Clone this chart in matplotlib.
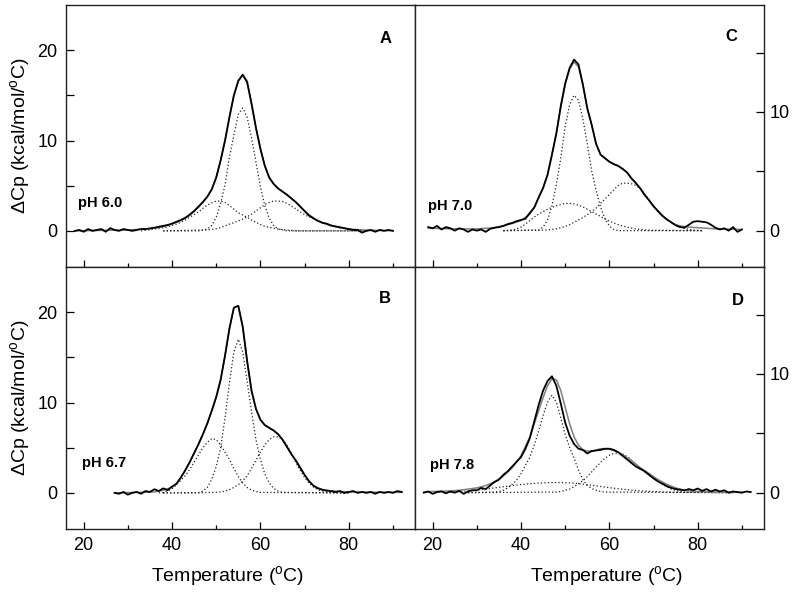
import matplotlib
matplotlib.use("Agg")
import matplotlib.pyplot as plt
from matplotlib.ticker import FixedLocator

plt.rcParams['font.family'] = ['Liberation Sans', 'DejaVu Sans']
plt.rcParams['mathtext.fontset'] = 'custom'
plt.rcParams['mathtext.rm'] = 'Liberation Sans'

# ---------------- Panel A (pH 6.0) ----------------
A_T = list(range(18, 91))
A_meas = [0.0, 0.1, -0.1, 0.2, 0.0, 0.1, 0.2, -0.1, 0.3, 0.1, 0.0, 0.2, 0.1, 0.0, 0.1, 0.2, 0.2,
          0.27, 0.35, 0.45, 0.55, 0.65, 0.8, 1.0, 1.2, 1.45, 1.8, 2.2, 2.7, 3.2, 3.8, 4.6, 5.9,
          7.8, 10.0, 12.6, 15.0, 16.6, 17.3, 16.5, 14.1, 11.4, 9.1, 7.2, 5.9, 5.2, 4.7, 4.35,
          4.0, 3.6, 3.2, 2.7, 2.2, 1.7, 1.4, 1.1, 0.9, 0.8, 0.6, 0.5, 0.4, 0.3, 0.2, 0.1,
          0.1, -0.2, 0.0, 0.1, -0.1, 0.1, 0.0, 0.1, 0.0]
A_fit_T = [18, 30, 34, 36, 38, 40, 42, 44, 46, 48, 49, 50, 51, 52, 53, 54, 55, 56, 57, 58, 59,
           60, 61, 62, 63, 64, 65, 66, 67, 68, 69, 70, 72, 74, 76, 78, 80, 84, 90]
A_fit = [0.0, 0.1, 0.2, 0.3, 0.45, 0.75, 1.15, 1.7, 2.6, 3.75, 4.6, 5.9, 7.8, 10.0, 12.6, 15.0,
         16.6, 17.2, 16.4, 14.0, 11.4, 9.1, 7.2, 5.9, 5.2, 4.7, 4.35, 4.0, 3.6, 3.15, 2.7, 2.2,
         1.4, 0.9, 0.55, 0.35, 0.2, 0.08, 0.02]
A_c1_T = [38] + list(range(46, 67)) + [84]
A_c1 = [0.0] + [0.0, 0.1, 0.2, 0.6, 1.5, 3.0, 5.1, 8.2, 10.6, 12.9, 13.6, 12.6, 10.3, 7.6, 4.9,
                2.8, 1.4, 0.6, 0.2, 0.1, 0.0] + [0.0]
A_c2_T = [33] + list(range(36, 69)) + [84]
A_c2 = [0.0] + [0.2, 0.25, 0.35, 0.45, 0.6, 0.75, 0.95, 1.2, 1.5, 1.8, 2.1, 2.5, 2.85, 3.1, 3.3,
                3.3, 3.15, 2.8, 2.4, 2.0, 1.75, 1.5, 1.2, 0.95, 0.7, 0.5, 0.4, 0.3, 0.2, 0.15,
                0.1, 0.05, 0.0] + [0.0]
A_c3_T = [38] + list(range(48, 84)) + [86]
A_c3 = [0.0] + [0.1, 0.15, 0.25, 0.35, 0.55, 0.75, 0.9, 1.1, 1.3, 1.55, 1.85, 2.2, 2.55, 2.9,
                3.15, 3.3, 3.3, 3.25, 3.05, 2.75, 2.45, 2.1, 1.8, 1.55, 1.35, 1.15, 0.95, 0.75,
                0.6, 0.45, 0.35, 0.25, 0.2, 0.15, 0.1, 0.05] + [0.0]

# ---------------- Panel B (pH 6.7) ----------------
B_T = list(range(27, 93))
B_meas = [0.0, -0.1, 0.1, -0.2, 0.0, 0.1, -0.1, 0.2, 0.1, 0.4, 0.2, 0.5, 0.3, 0.7, 1.0, 1.7,
          2.5, 3.4, 4.4, 5.4, 6.5, 7.7, 9.1, 10.6, 12.5, 15.2, 18.2, 20.5, 20.7, 18.4, 14.6,
          11.3, 9.3, 8.1, 7.5, 7.2, 6.9, 6.5, 5.9, 5.1, 4.3, 3.6, 2.8, 2.0, 1.3, 0.8, 0.5,
          0.35, 0.25, 0.2, 0.1, 0.2, 0.0, 0.1, 0.2, 0.0, 0.1, 0.0, 0.1, -0.1, 0.1, 0.0, 0.1,
          0.0, 0.2, 0.1]
B_fit_T = [27, 36, 38, 40, 41, 42, 43, 44, 45, 46, 47, 48, 49, 50, 51, 52, 53, 54, 55, 56, 57,
           58, 59, 60, 61, 62, 63, 64, 65, 66, 67, 68, 69, 70, 71, 72, 74, 76, 80, 92]
B_fit = [0.0, 0.1, 0.3, 0.6, 1.0, 1.7, 2.5, 3.4, 4.4, 5.4, 6.5, 7.7, 9.1, 10.6, 12.5, 15.2,
         18.2, 20.5, 20.7, 18.4, 14.6, 11.3, 9.3, 8.1, 7.5, 7.2, 6.9, 6.5, 5.9, 5.1, 4.3, 3.6,
         2.8, 2.0, 1.3, 0.8, 0.35, 0.2, 0.1, 0.05]
B_c1_T = [38] + list(range(46, 66)) + [80]
B_c1 = [0.0] + [0.0, 0.2, 0.6, 1.5, 2.9, 5.0, 8.3, 12.2, 15.6, 17.0, 15.6, 12.3, 9.0, 5.9, 3.7,
                2.1, 1.1, 0.5, 0.2, 0.05] + [0.0]
B_c2_T = [37] + list(range(38, 61)) + [80]
B_c2 = [0.0] + [0.05, 0.2, 0.45, 0.9, 1.4, 1.9, 2.6, 3.4, 4.2, 5.0, 5.6, 6.0, 5.9, 5.3, 4.5,
                3.7, 2.7, 1.8, 1.1, 0.6, 0.3, 0.15, 0.05] + [0.0]
B_c3_T = [38] + list(range(50, 77)) + [80]
B_c3 = [0.0] + [0.05, 0.1, 0.2, 0.35, 0.6, 0.9, 1.3, 1.9, 2.7, 3.6, 4.5, 5.3, 5.9, 6.2, 6.2,
                5.9, 5.3, 4.4, 3.4, 2.5, 1.7, 1.1, 0.65, 0.35, 0.2, 0.1, 0.05] + [0.0]

# ---------------- Panel C (pH 7.0) ----------------
C_T = list(range(19, 91))
C_meas = [0.3, 0.2, 0.4, 0.1, 0.3, 0.2, 0.0, 0.2, 0.1, -0.1, 0.1, 0.0, 0.1, -0.1, 0.15, 0.25,
          0.3, 0.4, 0.55, 0.65, 0.8, 0.9, 1.0, 1.5, 1.95, 2.8, 3.6, 4.7, 6.4, 8.2, 10.5, 12.4,
          13.7, 14.4, 14.0, 12.3, 10.3, 8.9, 7.3, 6.4, 6.1, 5.8, 5.6, 5.45, 5.2, 4.9, 4.4, 4.0,
          3.55, 3.0, 2.55, 2.05, 1.65, 1.25, 0.95, 0.7, 0.45, 0.3, 0.25, 0.5, 0.75, 0.8, 0.75,
          0.7, 0.5, 0.25, 0.1, 0.2, 0.0, 0.3, -0.1, 0.1]
C_fit_T = [19, 25, 30, 34, 36, 38, 40, 42, 43, 44, 45, 46, 47, 48, 49, 50, 51, 52, 53, 54, 55,
           56, 57, 58, 59, 60, 61, 62, 63, 64, 65, 66, 67, 68, 69, 70, 71, 72, 73, 74, 75, 76,
           78, 80, 84, 90]
C_fit = [0.2, 0.15, 0.15, 0.25, 0.4, 0.6, 0.85, 1.4, 1.95, 2.8, 3.6, 4.7, 6.4, 8.2, 10.4, 12.3,
         13.6, 14.2, 13.8, 12.3, 10.3, 8.9, 7.3, 6.4, 6.1, 5.8, 5.6, 5.45, 5.2, 4.9, 4.4, 4.0,
         3.55, 3.0, 2.55, 2.05, 1.65, 1.25, 0.95, 0.7, 0.5, 0.4, 0.3, 0.25, 0.15, 0.1]
C_c1_T = [36] + list(range(44, 63)) + [81]
C_c1 = [0.0] + [0.05, 0.3, 0.9, 2.1, 3.9, 6.1, 8.8, 10.6, 11.4, 11.0, 9.4, 7.3, 5.0, 3.4, 2.0,
                1.0, 0.4, 0.1, 0.0] + [0.0]
C_c2_T = [36] + list(range(38, 71)) + [81]
C_c2 = [0.0] + [0.05, 0.15, 0.3, 0.55, 0.85, 1.15, 1.4, 1.6, 1.8, 1.95, 2.1, 2.2, 2.3, 2.3,
                2.25, 2.15, 2.0, 1.8, 1.6, 1.4, 1.2, 1.0, 0.8, 0.65, 0.5, 0.4, 0.3, 0.22, 0.15,
                0.1, 0.07, 0.05, 0.03] + [0.0]
C_c3_T = [36] + list(range(46, 80)) + [81]
C_c3 = [0.0] + [0.05, 0.1, 0.15, 0.25, 0.35, 0.5, 0.7, 0.9, 1.1, 1.35, 1.6, 1.9, 2.3, 2.65,
                3.05, 3.45, 3.8, 4.0, 4.0, 3.95, 3.8, 3.55, 3.1, 2.6, 2.05, 1.6, 1.25, 0.95,
                0.7, 0.5, 0.35, 0.2, 0.1, 0.05] + [0.0]

# ---------------- Panel D (pH 7.8) ----------------
D_T = list(range(18, 93))
D_meas = [0.0, 0.1, -0.1, 0.05, 0.1, -0.05, 0.1, 0.0, 0.15, -0.1, 0.1, 0.2, 0.2, 0.4, 0.3,
          0.6, 0.9, 1.1, 1.5, 1.8, 2.2, 2.6, 3.0, 3.7, 4.6, 6.0, 7.4, 8.6, 9.4, 9.8, 9.0, 7.5,
          5.9, 4.8, 4.1, 3.7, 3.6, 3.3, 3.5, 3.55, 3.6, 3.7, 3.7, 3.6, 3.4, 3.1, 2.8, 2.5, 2.2,
          2.0, 1.8, 1.5, 1.2, 0.95, 0.75, 0.55, 0.4, 0.3, 0.25, 0.2, 0.3, 0.2, 0.35, 0.15, 0.3,
          0.1, 0.25, 0.1, 0.2, 0.0, 0.1, 0.05, 0.0, 0.1, 0.05]
D_fit_T = [18, 20, 22, 24, 26, 28, 30, 32, 34, 36, 38, 40, 42, 44, 45, 46, 47, 48, 49, 50, 51,
           52, 53, 54, 55, 56, 57, 58, 59, 60, 61, 62, 63, 64, 65, 66, 67, 68, 69, 70, 71, 72,
           73, 74, 75, 76, 77, 78, 80, 84, 90]
D_fit = [0.05, 0.1, 0.12, 0.15, 0.2, 0.3, 0.4, 0.6, 0.9, 1.4, 2.1, 3.1, 4.7, 6.9, 8.0, 9.0, 9.6,
         9.5, 8.6, 7.2, 5.8, 4.7, 4.0, 3.6, 3.5, 3.5, 3.6, 3.7, 3.7, 3.65, 3.55, 3.4, 3.2, 2.95,
         2.7, 2.4, 2.1, 1.85, 1.6, 1.35, 1.1, 0.9, 0.7, 0.55, 0.4, 0.3, 0.2, 0.15, 0.1, 0.05,
         0.02]
D_c1_T = [28] + list(range(34, 60)) + [88]
D_c1 = [0.0] + [0.05, 0.1, 0.2, 0.4, 0.7, 1.05, 1.6, 2.3, 3.0, 4.0, 5.2, 6.5, 7.6, 8.2, 7.6,
                6.3, 4.9, 3.8, 2.9, 1.9, 1.1, 0.6, 0.35, 0.2, 0.1, 0.05] + [0.0]
D_c2_T = [28] + list(range(48, 78)) + [88]
D_c2 = [0.0] + [0.05, 0.1, 0.2, 0.3, 0.5, 0.75, 1.0, 1.35, 1.75, 2.15, 2.55, 2.9, 3.15, 3.3,
                3.3, 3.25, 3.05, 2.75, 2.4, 2.1, 1.75, 1.45, 1.2, 0.95, 0.7, 0.5, 0.3, 0.2,
                0.1, 0.05] + [0.0]
D_c3_T = [24, 26, 28, 30, 32, 34, 36, 38, 40, 42, 44, 46, 48, 50, 52, 54, 56, 58, 60, 62, 64,
          66, 68, 70, 72, 74, 78, 84, 88]
D_c3 = [0.05, 0.1, 0.15, 0.22, 0.3, 0.4, 0.5, 0.6, 0.68, 0.75, 0.8, 0.84, 0.85, 0.84, 0.8,
        0.72, 0.62, 0.52, 0.42, 0.33, 0.25, 0.18, 0.13, 0.09, 0.06, 0.04, 0.02, 0.01, 0.0]

panel_letters = ['A', 'C', 'B', 'D']
ph_labels = ['pH 6.0', 'pH 7.0', 'pH 6.7', 'pH 7.8']
x_ticks_major = [20, 40, 60, 80]
x_ticks_minor = [30, 50, 70, 90]
left_yticks = [0, 5, 10, 15, 20]
left_ylabels = ['0', '', '10', '', '20']
right_yticks = [0, 5, 10, 15]
right_ylabels = ['0', '', '10', '']

ylabel = 'ΔCp (kcal/mol/$^\\mathregular{o}$C)'
xlabel = 'Temperature ($^\\mathregular{o}$C)'

fig = plt.figure(figsize=(7.95, 5.96), dpi=100)
W, H = 795.0, 596.0
pos = {
    'A': [66 / W, 1 - 267 / H, 349 / W, 262 / H],
    'C': [415 / W, 1 - 267 / H, 349 / W, 262 / H],
    'B': [66 / W, 1 - 529 / H, 349 / W, 262 / H],
    'D': [415 / W, 1 - 529 / H, 349 / W, 262 / H],
}
data = {
    'A': (A_T, A_meas, A_fit_T, A_fit,
          [(A_c1_T, A_c1), (A_c2_T, A_c2), (A_c3_T, A_c3)]),
    'B': (B_T, B_meas, B_fit_T, B_fit,
          [(B_c1_T, B_c1), (B_c2_T, B_c2), (B_c3_T, B_c3)]),
    'C': (C_T, C_meas, C_fit_T, C_fit,
          [(C_c1_T, C_c1), (C_c2_T, C_c2), (C_c3_T, C_c3)]),
    'D': (D_T, D_meas, D_fit_T, D_fit,
          [(D_c1_T, D_c1), (D_c2_T, D_c2), (D_c3_T, D_c3)]),
}
label_pos = {'A': (0.917, 0.874), 'C': (0.906, 0.879), 'B': (0.914, 0.878), 'D': (0.925, 0.874)}
ph_pos = {'A': (0.034, 0.244), 'C': (0.037, 0.233), 'B': (0.046, 0.25), 'D': (0.043, 0.244)}

for key, ph in zip(panel_letters, ph_labels):
    ax = fig.add_axes(pos[key])
    T, meas, fT, fit, comps = data[key]
    for cT, cv in comps:
        ax.plot(cT, cv, color='#222222', lw=0.9, linestyle=(0, (1, 1.8)))
    ax.plot(fT, fit, color='#808080', lw=1.1)
    ax.plot(T, meas, color='black', lw=1.3)
    ax.set_xlim(16, 95)
    right = key in ('C', 'D')
    if right:
        ax.set_ylim(-3.06, 19.0)
    else:
        ax.set_ylim(-4.0, 25.0)
    for s in ax.spines.values():
        s.set_linewidth(1.0)
        s.set_color('#222222')
    ax.xaxis.set_major_locator(FixedLocator(x_ticks_major))
    ax.xaxis.set_minor_locator(FixedLocator(x_ticks_minor))
    ax.tick_params(axis='x', which='major', direction='in', length=5, width=0.9,
                   labelsize=13, pad=6, top=False)
    ax.tick_params(axis='x', which='minor', direction='in', length=3, width=0.9, top=False)
    if key in ('A', 'C'):
        ax.tick_params(axis='x', labelbottom=False)
    if right:
        ax.yaxis.set_major_locator(FixedLocator(right_yticks))
        ax.set_yticklabels(right_ylabels)
        ax.tick_params(axis='y', which='major', direction='in', length=6, width=0.9,
                       labelsize=13, left=False, labelleft=False, right=True,
                       labelright=True, pad=4)
    else:
        ax.yaxis.set_major_locator(FixedLocator(left_yticks))
        ax.set_yticklabels(left_ylabels)
        ax.tick_params(axis='y', which='major', direction='in', length=6, width=0.9,
                       labelsize=13, left=True, right=False, pad=6)
        ax.set_ylabel(ylabel, fontsize=14, labelpad=3)
    lx, ly = label_pos[key]
    ax.text(lx, ly, key, transform=ax.transAxes, fontsize=12, fontweight='bold',
            ha='center', va='center')
    px, py = ph_pos[key]
    ax.text(px, py, ph, transform=ax.transAxes, fontsize=10.5, fontweight='bold',
            ha='left', va='center')

fig.text(228 / W, 1 - 577 / H, xlabel, fontsize=14, ha='center', va='center')
fig.text(607 / W, 1 - 577 / H, xlabel, fontsize=14, ha='center', va='center')

fig.savefig('out.png', dpi=100)
